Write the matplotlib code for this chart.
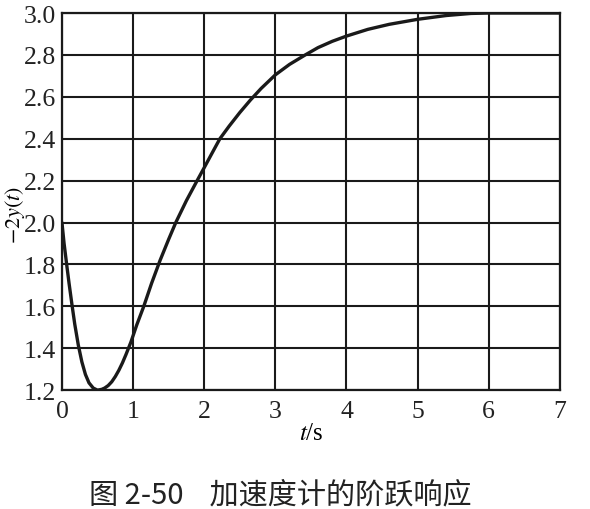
import matplotlib
matplotlib.use('Agg')
import matplotlib.pyplot as plt

plt.rcParams['font.family'] = 'Liberation Serif'
plt.rcParams['mathtext.fontset'] = 'stix'

# 读图得到的阶跃响应
t = [0, 0.03, 0.07, 0.1, 0.14, 0.18, 0.23, 0.28, 0.33, 0.38, 0.44, 0.5,
     0.56, 0.6, 0.65, 0.7, 0.75, 0.8, 0.85, 0.9, 0.97, 1.05, 1.15, 1.26,
     1.38, 1.5, 1.6, 1.75, 1.9, 2.0, 2.1, 2.22, 2.35, 2.5, 2.65, 2.8, 3.0,
     3.2, 3.42, 3.6, 3.8, 4.0, 4.3, 4.6, 5.0, 5.4, 5.75, 6.0, 7.0]
y = [2.0, 1.9, 1.79, 1.71, 1.61, 1.515, 1.415, 1.335, 1.275, 1.235, 1.21, 1.2,
     1.204, 1.21, 1.222, 1.24, 1.265, 1.295, 1.33, 1.37, 1.43, 1.51, 1.6, 1.71,
     1.82, 1.92, 2.0, 2.105, 2.2, 2.262, 2.325, 2.4, 2.46, 2.525, 2.585, 2.64, 2.705,
     2.755, 2.8, 2.835, 2.865, 2.89, 2.922, 2.946, 2.97, 2.988, 2.998, 3.0, 3.0]

xticks = [0, 1, 2, 3, 4, 5, 6, 7]
yticks = [1.2, 1.4, 1.6, 1.8, 2.0, 2.2, 2.4, 2.6, 2.8, 3.0]

fig = plt.figure(figsize=(5.9, 5.1), dpi=100)
ax = fig.add_axes([0.105, 0.233, 0.844, 0.7395])
ax.plot(t, y, color='#1a1a1a', lw=2.4, solid_capstyle='round')

ax.set_xlim(0, 7)
ax.set_ylim(1.2, 3.0)
ax.set_xticks(xticks)
ax.set_yticks(yticks)
ax.set_xticklabels([str(v) for v in xticks])
ax.set_yticklabels([f'{v:.1f}' for v in yticks])
ax.grid(True, color='#1a1a1a', lw=1.5)
for s in ax.spines.values():
    s.set_color('#1a1a1a')
    s.set_linewidth(1.6)
ax.tick_params(length=0, labelsize=18.5, colors='#222222')
ax.tick_params(axis='x', pad=7)
ax.tick_params(axis='y', pad=4)

ax.set_xlabel('$t$/s', fontsize=18, labelpad=0)
ax.set_ylabel('$-2y(t)$', fontsize=16)
ax.yaxis.set_label_coords(-0.07, 0.467)

fig.text(0.475, 0.012, '图 2-50    加速度计的阶跃响应', ha='center', va='baseline',
         fontsize=21, family=['Noto Sans CJK SC', 'DejaVu Sans'], color='#222222')

fig.savefig('out.png', dpi=100)
